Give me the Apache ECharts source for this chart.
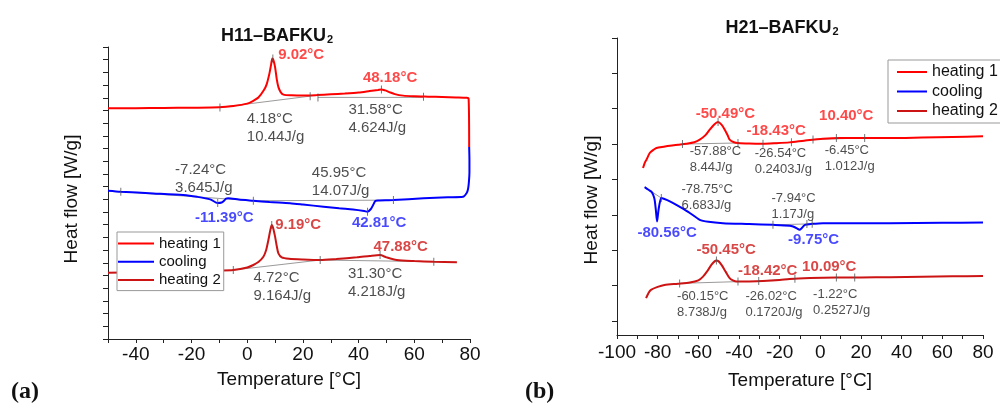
<!DOCTYPE html>
<html><head><meta charset="utf-8">
<script src="https://cdn.jsdelivr.net/npm/echarts@6/dist/echarts.min.js"></script>
<style>html,body{margin:0;padding:0;background:#fff}#c{width:1000px;height:403px}</style>
</head><body><div id="c"></div>
<script>
// ---------- Panel (a) H11–BAFKU2 : temperature [°C] and heat flow (arbitrary units, offset curves)
const aH1T = [-50,-40,-30,-20,-10,-5,0,2,4,6,7,8,8.6,9.0,9.4,10,10.6,11.2,12,13,16,20,25,30,35,40,44,47,48.2,49.5,51,53,56,60,65,70,75,78.8,79.5,79.7];
const aH1Y = [18.17,18.18,18.20,18.22,18.25,18.35,18.54,18.74,19.02,19.61,20.08,20.94,21.65,22.09,21.97,21.42,20.47,19.84,19.45,19.25,19.19,19.17,19.21,19.27,19.33,19.41,19.53,19.62,19.66,19.58,19.45,19.29,19.17,19.12,19.09,19.06,19.03,19.00,18.94,15.12];
const aCT = [79.7,79.8,79.8,79.6,79.3,78.8,77.5,72,63.3,52.5,47,46,45.2,44.4,43.2,42,38,33,27.4,20,15.4,8,2.2,-3,-6.8,-7.6,-8.3,-9.2,-10.6,-13.3,-18,-22.9,-33.7,-45.4,-50];
const aCY = [15.12,14.09,13.15,12.36,11.81,11.50,11.20,11.16,11.08,10.94,10.91,10.87,10.55,10.24,10.02,10.08,10.20,10.29,10.42,10.59,10.69,10.79,10.89,10.98,11.08,11.05,10.90,10.75,10.71,11.00,11.20,11.34,11.47,11.60,11.68];
const aH2T = [-50,-40,-30,-20,-10,-5,0,2.2,4,5.8,6.8,7.6,8.3,8.8,9.3,10,10.6,11.2,12.4,15,20,26.2,32,39.4,44,47.7,50,53.7,60,67,75.3];
const aH2Y = [5.22,5.25,5.28,5.33,5.39,5.43,5.63,5.83,6.06,6.48,7.01,7.80,8.58,8.98,8.74,8.06,7.32,6.75,6.43,6.32,6.26,6.22,6.30,6.43,6.54,6.61,6.43,6.22,6.14,6.09,6.04];
const aBaselines = [[[-9.8,18.24],[22.6,19.13]],[[25.4,19.03],[63.3,19.03]],[[-45.4,11.60],[2.2,10.89]],[[2.2,10.89],[52.5,10.94]],[[-5,5.43],[26.2,6.22]],[[26.2,6.22],[67,6.09]]];
const aMarks = [[-9.8,18.24],[22.6,19.13],[25.4,19.03],[63.3,19.08],[9.2,22.1],[48.2,19.66],[-45.4,11.60],[2.2,10.89],[52.5,10.94],[-10.6,10.71],[43.2,10.02],[-5,5.43],[26.2,6.22],[67,6.09],[8.8,8.98],[47.7,6.61]];
// annotations: [T, y, text, kind]  kind: h1 / c / h2 / n (neutral)
const aNotes = [
  [11.08,22.36,'9.02°C','h1'],[41.52,20.55,'48.18°C','h1'],
  [-0.16,16.63,'4.18°C\n10.44J/g','n'],[36.35,17.34,'31.58°C\n4.624J/g','n'],
  [-25.93,12.65,'-7.24°C\n3.645J/g','n'],[23.19,12.35,'45.95°C\n14.07J/g','n'],
  [-18.74,9.55,'-11.39°C','c'],[37.57,9.16,'42.81°C','c'],
  [10.01,8.98,'9.19°C','h2'],[45.33,7.22,'47.88°C','h2'],
  [2.21,4.09,'4.72°C\n9.164J/g','n'],[36.13,4.39,'31.30°C\n4.218J/g','n']
];
const aXTicks = [-40,-20,0,20,40,60,80];

// ---------- Panel (b) H21–BAFKU2
const bH1T = [-87.2,-86.3,-85.5,-83.9,-82,-80.6,-77,-74,-70,-65.9,-62,-59.3,-56.5,-54.4,-52.3,-50.3,-48.6,-47,-45.5,-44.6,-42.5,-40.5,-35,-28.2,-22,-15.1,-8,1.3,9.5,20,34.1,50,65,80];
const bH1Y = [4.722,4.873,4.958,5.147,5.241,5.289,5.326,5.354,5.382,5.411,5.453,5.524,5.652,5.807,5.949,6.025,5.949,5.807,5.637,5.524,5.453,5.431,5.416,5.411,5.425,5.448,5.496,5.552,5.572,5.572,5.572,5.586,5.601,5.618];
const bCT = [-86.4,-84.5,-83.2,-82.2,-81.5,-80.9,-80.3,-79.7,-79,-78.2,-77,-74,-70.8,-65,-59.3,-55,-47.9,-35,-23.3,-15,-13.4,-11.5,-10.3,-9,-7.6,-4,1.3,20,34,60,80];
const bCY = [4.184,4.108,4.059,3.966,3.824,3.541,3.210,3.484,3.731,3.873,3.853,3.782,3.683,3.484,3.258,3.201,3.164,3.139,3.116,3.093,3.068,3.017,2.975,3.031,3.116,3.144,3.164,3.164,3.164,3.173,3.181];
const bH2T = [-85.7,-84.5,-83.3,-80,-76.7,-70,-64.2,-60,-57.7,-55.5,-53.6,-52,-51.1,-50,-48.6,-46.5,-44.6,-43,-41.3,-35,-28.2,-20,-15.1,-5,7.9,20,34.1,50,65,80];
const bH2Y = [1.040,1.190,1.275,1.360,1.416,1.450,1.482,1.544,1.652,1.813,1.983,2.082,2.105,2.082,1.983,1.785,1.606,1.544,1.510,1.516,1.530,1.558,1.586,1.609,1.623,1.629,1.635,1.649,1.660,1.671];
const bBaselines = [[[-67.8,5.40],[-40.5,5.431]],[[-28.2,5.411],[-14.2,5.45]],[[-3.6,5.53],[21.8,5.572]],[[-86.4,4.184],[-78.2,3.873]],[[-23.3,3.116],[-4,3.144]],[[-69.2,1.46],[-40.5,1.51]],[[-30.3,1.527],[-12.5,1.59]],[[7.9,1.623],[16.9,1.628]]];
const bMarks = [[-67.8,5.40],[-40.5,5.431],[-28.2,5.411],[-14.2,5.45],[-3.6,5.53],[7.9,5.57],[21.8,5.572],[-50.3,6.025],[-78.2,3.873],[-23.3,3.116],[-6.6,3.14],[-4,3.144],[-69.2,1.46],[-40.5,1.51],[-30.3,1.527],[-12.5,1.59],[7.9,1.623],[16.9,1.628],[-51.1,2.105]];
const bNotes = [
  [-61.29,6.252,'-50.49°C','h1'],[-36.35,5.779,'-18.43°C','h1'],[-0.64,6.184,'10.40°C','h1'],
  [-64.24,4.966,'-57.88°C\n8.44J/g','s'],[-32.27,4.901,'-26.54°C\n0.2403J/g','s'],[2.16,5.003,'-6.45°C\n1.012J/g','s'],
  [-68.32,3.904,'-78.75°C\n6.683J/g','s'],[-24.05,3.640,'-7.94°C\n1.17J/g','s'],
  [-89.97,2.881,'-80.56°C','c'],[-15.89,2.691,'-9.75°C','c'],
  [-60.94,2.408,'-50.45°C','h2'],[-40.48,1.822,'-18.42°C','h2'],[-9.0,1.918,'10.09°C','h2'],
  [-70.49,0.858,'-60.15°C\n8.738J/g','s'],[-36.84,0.858,'-26.02°C\n0.1720J/g','s'],[-3.59,0.926,'-1.22°C\n0.2527J/g','s']
];
const bXTicks = [-100,-80,-60,-40,-20,0,20,40,60,80];
const bYTicks = [0.4,1.4,2.4,3.4,4.4,5.4,6.4,7.4,8.4];

const seriesNames = ['heating 1','cooling','heating 2'];
const COL = {h1:'#ff0000', c:'#0000ff', h2:'#cc1414'};
const LAB = {h1:'#ff1a1a', c:'#1a1aff', h2:'#d01818'};
const FF = 'Liberation Sans, Arial, sans-serif';

const chart = echarts.init(document.getElementById('c'), null, {renderer:'canvas'});
const zip = (xs, ys) => xs.map((x,i)=>[x, ys[i]]);

function curve(name, xs, ys, key, idx) {
  return {type:'line', name, xAxisIndex:idx, yAxisIndex:idx, data:zip(xs,ys), symbol:'none',
    smooth:0.25, lineStyle:{color:COL[key], width:2}, itemStyle:{color:COL[key]}, z:3, silent:true};
}
function baselines(segs, idx) {
  return segs.map(s => ({type:'line', xAxisIndex:idx, yAxisIndex:idx, data:s, symbol:'none',
    lineStyle:{color:'#9a9a9a', width:1}, z:2, silent:true}));
}
function marks(pts, idx) {
  return {type:'scatter', xAxisIndex:idx, yAxisIndex:idx, data:pts, symbol:'rect', symbolSize:[1,8],
    itemStyle:{color:'#555'}, z:4, silent:true};
}
function notes(list, idx, big, small) {
  return {type:'scatter', xAxisIndex:idx, yAxisIndex:idx, symbolSize:0.1, itemStyle:{color:'transparent'}, z:6, silent:true,
    data:list.map(n => {
      const bold = n[3] !== 'n' && n[3] !== 's';
      const fs = bold ? 15 : (n[3]==='n' ? big : small);
      return {name:n[2], value:[n[0], n[1]], label:{show:true, position:'right', distance:0, formatter:'{b}',
        color: bold ? LAB[n[3]] : '#222', fontWeight: bold ? 'bold' : 'normal', fontSize: fs, fontFamily:FF,
        lineHeight: n[3]==='n' ? 18 : 16, align:'left', verticalAlign:'middle'}};
    })};
}

const xAxisCommon = (min, max, gridIndex, nameGap, margin) => ({
  type:'value', gridIndex, min, max, interval:10, name:'Temperature [°C]', nameLocation:'middle', nameGap,
  nameTextStyle:{fontSize:19, color:'#111', fontFamily:FF},
  axisLine:{show:true, onZero:false, lineStyle:{color:'#222', width:1}},
  axisTick:{show:true, inside:false, length:4, lineStyle:{color:'#222'}},
  axisLabel:{fontSize:19, color:'#111', fontFamily:FF, margin,
    formatter: v => (gridIndex===0 ? aXTicks : bXTicks).includes(v) ? String(v) : ''},
  splitLine:{show:false}
});

const legendCommon = {orient:'vertical', icon:'rect', itemHeight:2, borderColor:'#999', borderWidth:1,
  backgroundColor:'#fff', selectedMode:false, z:10};

const option = {
  animation:false,
  backgroundColor:'#fff',
  title:[
    {text:'{m|H11–BAFKU}{s|2}', left:272, top:22, textAlign:'center',
      textStyle:{rich:{m:{fontSize:18, fontWeight:'bold', fontFamily:FF, color:'#111'}, s:{fontSize:11, fontWeight:'bold', fontFamily:FF, color:'#111', verticalAlign:'bottom', padding:[0,0,0,1]}}}},
    {text:'{m|H21–BAFKU}{s|2}', left:777, top:14, textAlign:'center',
      textStyle:{rich:{m:{fontSize:18, fontWeight:'bold', fontFamily:FF, color:'#111'}, s:{fontSize:11, fontWeight:'bold', fontFamily:FF, color:'#111', verticalAlign:'bottom', padding:[0,0,0,1]}}}}
  ],
  legend:[
    Object.assign({}, legendCommon, {data:seriesNames, left:117, top:232, itemWidth:36, itemGap:3.3,
      padding:[4,3,3,1], textStyle:{fontSize:15, color:'#111', fontFamily:FF}}),
    Object.assign({}, legendCommon, {data:seriesNames, left:888, top:60, itemWidth:30, itemGap:3.5,
      padding:[4,5,4,9], textStyle:{fontSize:16, color:'#111', fontFamily:FF}})
  ],
  grid:[
    {left:108, top:47, width:362, height:292, containLabel:false},
    {left:617, top:38, width:366, height:297, containLabel:false}
  ],
  xAxis:[ xAxisCommon(-50, 80, 0, 31, 6), xAxisCommon(-100, 80, 1, 36, 8) ],
  yAxis:[
    {type:'value', gridIndex:0, min:0, max:23, interval:1, name:'Heat flow [W/g]', nameLocation:'middle', nameGap:27,
      nameTextStyle:{fontSize:19, color:'#111', fontFamily:FF, padding:[0,12,0,0]},
      axisLine:{show:true, onZero:false, lineStyle:{color:'#222'}}, axisTick:{show:true, length:5, lineStyle:{color:'#222'}},
      axisLabel:{show:false}, splitLine:{show:false}},
    {type:'value', gridIndex:1, min:0, max:8.4, name:'Heat flow [W/g]', nameLocation:'middle', nameGap:16,
      nameTextStyle:{fontSize:19, color:'#111', fontFamily:FF, padding:[0,27,0,0]},
      axisLine:{show:true, onZero:false, lineStyle:{color:'#222'}}, axisTick:{show:true, length:5, customValues:bYTicks, lineStyle:{color:'#222'}},
      axisLabel:{show:false}, splitLine:{show:false}}
  ],
  graphic:[
    {type:'text', left:11, top:380, style:{text:'(a)', font:'bold 24px "Liberation Serif", serif', fill:'#111'}},
    {type:'text', left:525, top:380, style:{text:'(b)', font:'bold 24px "Liberation Serif", serif', fill:'#111'}}
  ],
  series:[
    ...baselines(aBaselines, 0), ...baselines(bBaselines, 1),
    curve('heating 1', aH1T, aH1Y, 'h1', 0),
    curve('cooling', aCT, aCY, 'c', 0),
    curve('heating 2', aH2T, aH2Y, 'h2', 0),
    curve('heating 1', bH1T, bH1Y, 'h1', 1),
    curve('cooling', bCT, bCY, 'c', 1),
    curve('heating 2', bH2T, bH2Y, 'h2', 1),
    marks(aMarks, 0), marks(bMarks, 1),
    notes(aNotes, 0, 15, 13), notes(bNotes, 1, 15, 13)
  ]
};
chart.setOption(option);
</script></body></html>
